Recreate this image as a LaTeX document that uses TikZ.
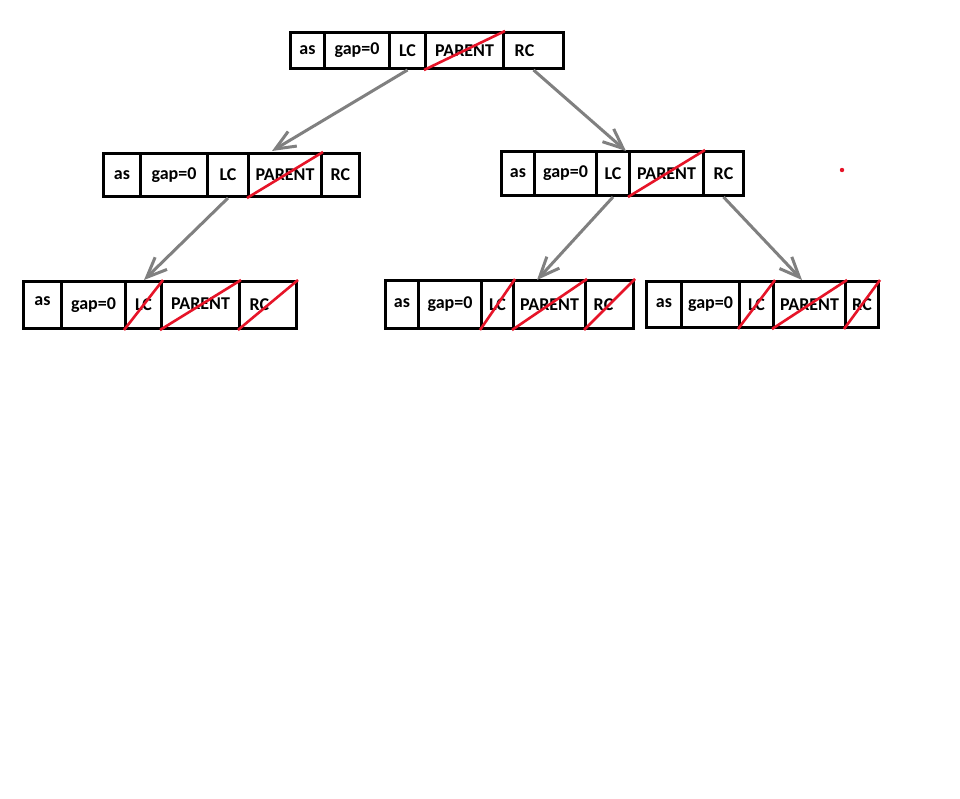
\documentclass[tikz,border=0pt]{standalone}
\usepackage{fontspec}
\setmainfont{Carlito}
\usetikzlibrary{arrows.meta}
\definecolor{arrowgray}{RGB}{128,128,128}
\definecolor{slashred}{RGB}{230,20,40}
\tikzset{
  cell/.style={draw=black, line width=3pt, inner sep=0pt, anchor=north west,
    font=\fontsize{18}{21}\selectfont\bfseries},
  slash/.style={draw=slashred, line width=2.6pt},
  ptr/.style={draw=arrowgray, line width=3pt,
    -{Straight Barb[length=20pt, width=17pt, line width=3pt]}},
}
\newcommand{\mkcell}[6]{% name, x1, x2, ytop, ybot, text
  \node[cell, minimum width=#3pt-#2pt, minimum height=#5pt-#4pt] (#1) at (#2,#4) {#6};}
\begin{document}
\begin{tikzpicture}[x=1pt,y=-1pt]
\useasboundingbox[fill=white] (0,0) rectangle (960,798);

% record 1 (root)
\mkcell{aA}{289}{323}{31}{67}{as}
\mkcell{aG}{323}{388}{31}{67}{gap=0}
\mkcell{aL}{388}{424}{31}{67}{LC}
\mkcell{aP}{424}{502}{31}{67}{PARENT}
\mkcell{aR}{502}{562}{31}{67}{\hspace*{-18pt}RC}
\draw[slash] (aP.south west) -- (aP.north east);

% record 2 (left child)
\mkcell{bA}{102}{139}{152}{195}{as}
\mkcell{bG}{139}{206}{152}{195}{gap=0}
\mkcell{bL}{206}{247}{152}{195}{LC}
\mkcell{bP}{247}{320}{152}{195}{PARENT}
\mkcell{bR}{320}{358}{152}{195}{RC}
\draw[slash] (bP.south west) -- (bP.north east);

% record 3 (right child)
\mkcell{cA}{500}{533}{150}{194}{as}
\mkcell{cG}{533}{595}{150}{194}{gap=0}
\mkcell{cL}{595}{628}{150}{194}{LC}
\mkcell{cP}{628}{702}{150}{194}{PARENT}
\mkcell{cR}{702}{742}{150}{194}{RC}
\draw[slash] (cP.south west) -- (cP.north east);

% record 4
\mkcell{dA}{22}{60}{280}{327}{\raisebox{8pt}{as}}
\mkcell{dG}{60}{124}{280}{327}{\raisebox{3pt}{gap=0}}
\mkcell{dL}{124}{160}{280}{327}{LC}
\mkcell{dP}{160}{238}{280}{327}{\raisebox{3pt}{PARENT}}
\mkcell{dR}{238}{295}{280}{327}{\hspace*{-17pt}\raisebox{-2pt}{RC}}
\draw[slash] (dL.south west) -- (dL.north east);
\draw[slash] (dP.south west) -- (dP.north east);
\draw[slash] (dR.south west) -- (dR.north east);

% record 5
\mkcell{eA}{384}{417}{279}{327}{\raisebox{2pt}{as}}
\mkcell{eG}{417}{480}{279}{327}{gap=0}
\mkcell{eL}{480}{512}{279}{327}{LC}
\mkcell{eP}{512}{584}{279}{327}{PARENT}
\mkcell{eR}{584}{632}{279}{327}{\hspace*{-12pt}RC}
\draw[slash] (eL.south west) -- (eL.north east);
\draw[slash] (eP.south west) -- (eP.north east);
\draw[slash] (eR.south west) -- (eR.north east);

% record 6
\mkcell{fA}{645}{680}{280}{326}{\raisebox{2pt}{as}}
\mkcell{fG}{680}{738}{280}{326}{gap=0}
\mkcell{fL}{738}{772}{280}{326}{LC}
\mkcell{fP}{772}{844}{280}{326}{PARENT}
\mkcell{fR}{844}{877}{280}{326}{RC}
\draw[slash] (fL.south west) -- (fL.north east);
\draw[slash] (fP.south west) -- (fP.north east);
\draw[slash] (fR.south west) -- (fR.north east);

% arrow targets
\coordinate (t1) at (272,151);
\coordinate (t2) at (626,151);
\coordinate (t3) at (144,280);
\coordinate (t4) at (537,280);
\coordinate (t5) at (802,280);

% pointers
\draw[ptr] (aL.south) -- (t1);
\draw[ptr] (aR.south) -- (t2);
\draw[ptr] (bL.south) -- (t3);
\draw[ptr] (cL.south) -- (t4);
\draw[ptr] (cR.south) -- (t5);

% stray red dot
\fill[slashred] (842,170) circle (2.2);
\end{tikzpicture}
\end{document}
